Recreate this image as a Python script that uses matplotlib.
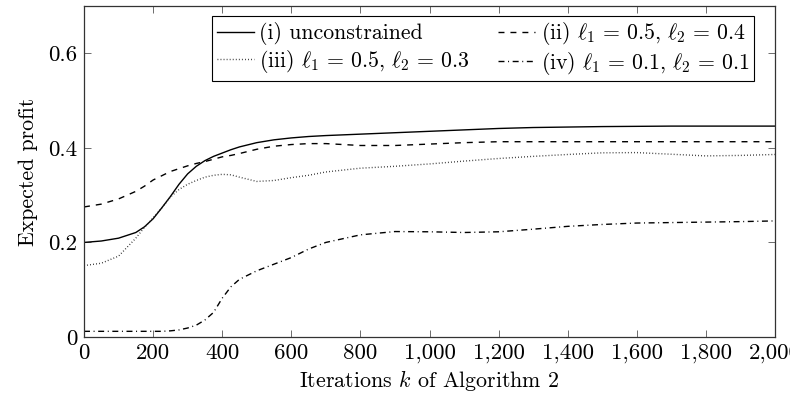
import matplotlib
matplotlib.use("Agg")
import matplotlib.pyplot as plt
from matplotlib.ticker import FuncFormatter, MultipleLocator

plt.rcParams['font.family'] = ['cmr10', 'DejaVu Serif']
plt.rcParams['mathtext.fontset'] = 'cm'
plt.rcParams['axes.formatter.use_mathtext'] = True

iters = [0, 50, 100, 150, 175, 200, 225, 250, 275, 300, 325, 350, 375, 400, 425, 450, 500, 550, 600,
         650, 700, 800, 900, 1000, 1100, 1200, 1300, 1400, 1500, 1600, 1700, 1800, 1900, 2000]

unconstrained = [0.200, 0.203, 0.209, 0.221, 0.233, 0.250, 0.273, 0.297, 0.323, 0.345, 0.361, 0.373,
                 0.382, 0.389, 0.396, 0.402, 0.411, 0.417, 0.421, 0.424, 0.426, 0.429, 0.432, 0.435,
                 0.438, 0.441, 0.443, 0.444, 0.445, 0.4455, 0.446, 0.446, 0.446, 0.446]
l05_04 = [0.275, 0.281, 0.292, 0.308, 0.319, 0.332, 0.341, 0.350, 0.356, 0.362, 0.367, 0.371,
          0.376, 0.381, 0.384, 0.388, 0.397, 0.4035, 0.407, 0.409, 0.409, 0.405, 0.405, 0.408,
          0.411, 0.413, 0.413, 0.413, 0.413, 0.413, 0.413, 0.413, 0.413, 0.413]
l05_03 = [0.151, 0.156, 0.171, 0.209, 0.232, 0.252, 0.273, 0.296, 0.312, 0.323, 0.331, 0.338,
          0.342, 0.344, 0.343, 0.338, 0.329, 0.331, 0.337, 0.342, 0.349, 0.357, 0.361, 0.366,
          0.372, 0.3775, 0.382, 0.386, 0.3895, 0.390, 0.3865, 0.383, 0.384, 0.386]
l01_01 = [0.012, 0.012, 0.012, 0.012, 0.012, 0.012, 0.012, 0.013, 0.015, 0.019, 0.025, 0.036,
          0.052, 0.082, 0.106, 0.122, 0.140, 0.154, 0.168, 0.186, 0.200, 0.216, 0.223, 0.2225,
          0.221, 0.2225, 0.228, 0.234, 0.238, 0.241, 0.242, 0.243, 0.244, 0.2455]

labels = [r'(i) unconstrained',
          r'(ii) $\ell_1 \,=\, 0.5$, $\ell_2 \,=\, 0.4$',
          r'(iii) $\ell_1 \,=\, 0.5$, $\ell_2 \,=\, 0.3$',
          r'(iv) $\ell_1 \,=\, 0.1$, $\ell_2 \,=\, 0.1$']

fig = plt.figure(figsize=(7.9, 3.98), dpi=100)
ax = fig.add_axes([84/790, 61/398, 691/790, 331/398])

lw = 1.0
l1, = ax.plot(iters, unconstrained, color='black', lw=lw, linestyle='-')
l2, = ax.plot(iters, l05_04, color='black', lw=lw, linestyle=(0, (4.3, 4.3)))
l3, = ax.plot(iters, l05_03, color='#222222', lw=lw, linestyle=(0, (0.6, 1.6)))
l4, = ax.plot(iters, l01_01, color='black', lw=lw, linestyle=(0, (4.3, 2.6, 0.7, 2.6)))

ax.set_xlim(0, 2000)
ax.set_ylim(0, 0.7)
ax.xaxis.set_major_locator(MultipleLocator(200))
ax.set_yticks([0, 0.2, 0.4, 0.6])
ax.xaxis.set_major_formatter(FuncFormatter(lambda v, p: f"{int(round(v)):,}"))
ax.yaxis.set_major_formatter(FuncFormatter(lambda v, p: "0" if abs(v) < 1e-9 else f"{v:.1f}"))
ax.tick_params(direction='in', length=5, width=0.6, color='#555555', top=True, right=True,
               labelsize=16.5, pad=5)
for s in ax.spines.values():
    s.set_linewidth(0.9)
    s.set_color('#333333')

ax.set_xlabel(r'Iterations $k$ of Algorithm 2', fontsize=15.8, labelpad=3)
ax.set_ylabel('Expected profit', fontsize=15.8, labelpad=7)

# row-wise order: (i) (ii) / (iii) (iv) -> matplotlib fills column-wise
leg = ax.legend([l1, l3, l2, l4], [labels[0], labels[2], labels[1], labels[3]], ncol=2,
                loc='upper right', bbox_to_anchor=(0.9696, 0.9698), fontsize=15.7, frameon=True,
                fancybox=False, edgecolor='black', framealpha=1, handlelength=1.7,
                handletextpad=0.25, columnspacing=1.3, borderpad=0.2, labelspacing=0.1,
                borderaxespad=0)
leg.get_frame().set_linewidth(0.8)

fig.savefig('out.png', dpi=100)
